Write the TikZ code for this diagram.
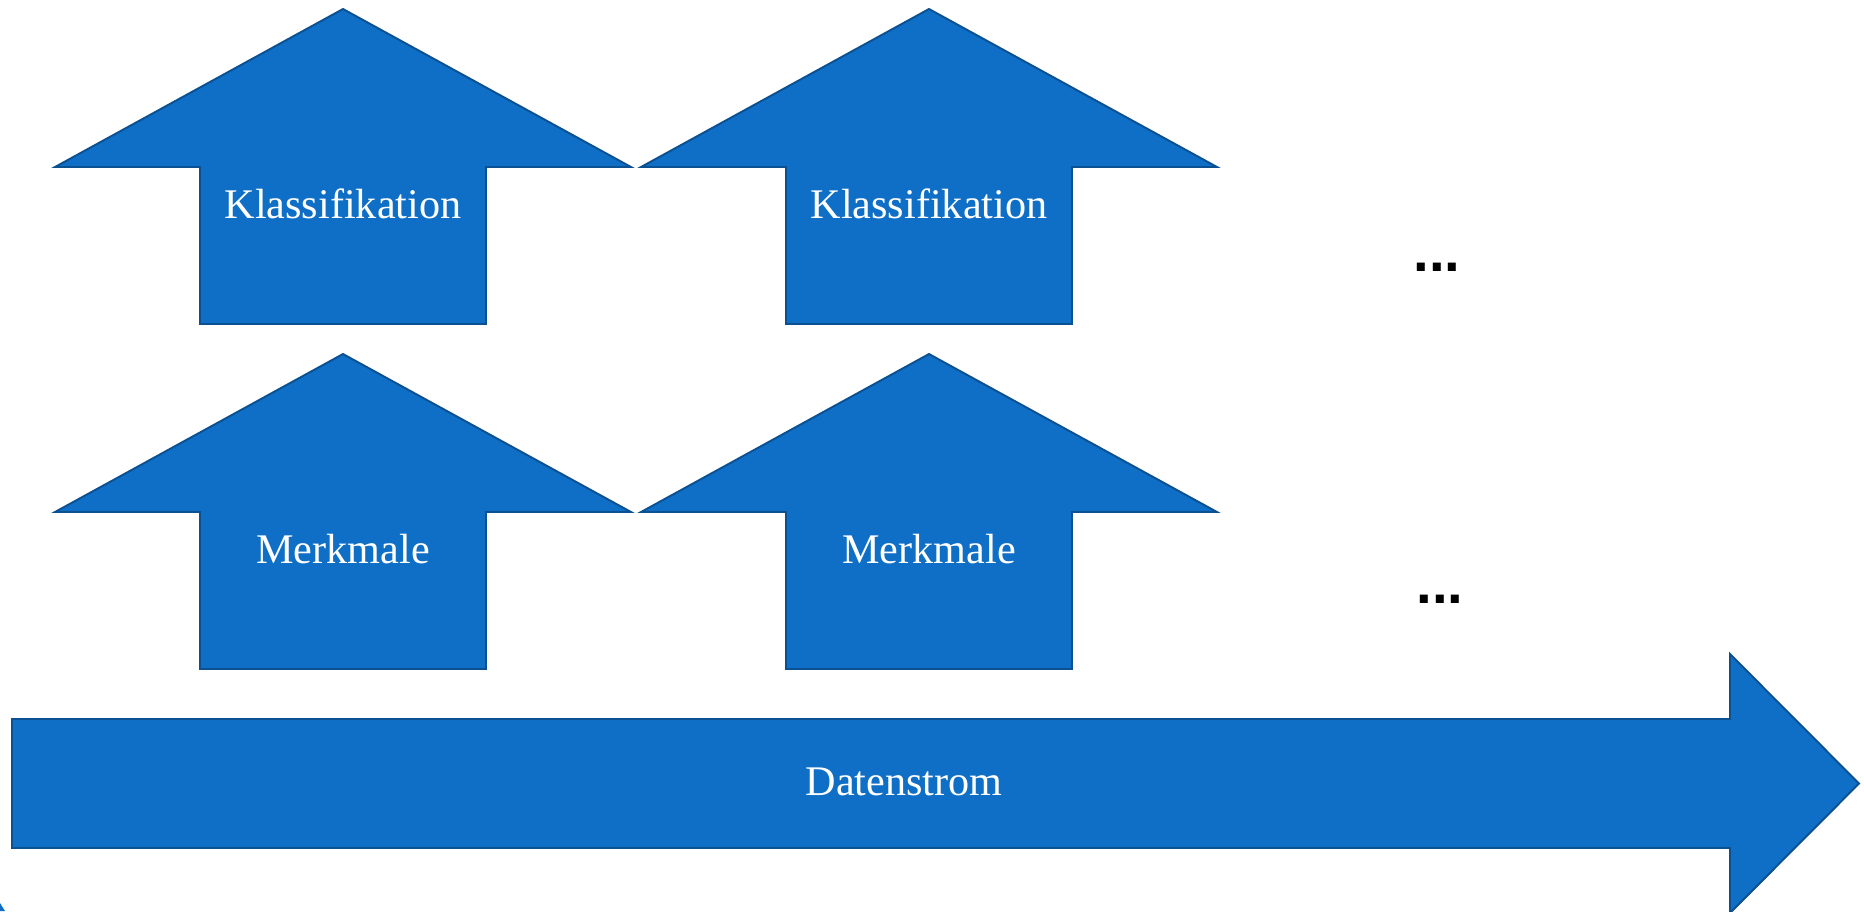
\documentclass[tikz,border=0pt]{standalone}
\usepackage{fontspec}
\setmainfont{Liberation Serif}
\newfontfamily\punktfont{Liberation Sans}
\definecolor{pfeilblau}{HTML}{0F6FC6}
\definecolor{pfeilrand}{HTML}{0B5192}
\begin{document}
\begin{tikzpicture}[x=0.01cm,y=-0.01cm,
    pfeil/.style={fill=pfeilblau,draw=pfeilrand,line width=0.55pt,line join=miter},
    schrift/.style={text=white,font=\fontsize{12pt}{14pt}\selectfont,inner sep=0pt,anchor=base},
    punkte/.style={text=black,font=\punktfont\bfseries\fontsize{16pt}{18pt}\selectfont,inner sep=0pt,anchor=base}]

    \useasboundingbox (0,0) rectangle (1864,911);

    % obere Reihe
    \draw[pfeil] (343,9) -- ++(288,158) -- ++(-145,0) -- ++(0,157) -- ++(-286,0) -- ++(0,-157) -- ++(-145,0) -- cycle;
    \draw[pfeil] (929,9) -- ++(288,158) -- ++(-145,0) -- ++(0,157) -- ++(-286,0) -- ++(0,-157) -- ++(-145,0) -- cycle;
    % untere Reihe
    \draw[pfeil] (343,354) -- ++(288,158) -- ++(-145,0) -- ++(0,157) -- ++(-286,0) -- ++(0,-157) -- ++(-145,0) -- cycle;
    \draw[pfeil] (929,354) -- ++(288,158) -- ++(-145,0) -- ++(0,157) -- ++(-286,0) -- ++(0,-157) -- ++(-145,0) -- cycle;
    % Datenstrom
    \draw[pfeil] (12,719) -- (1730,719) -- (1730,654) -- (1859,783.5) -- (1730,913) -- (1730,848) -- (12,848) -- cycle;
    \fill[pfeilblau] (0,903) -- (5,911) -- (0,911) -- cycle;

    \node[schrift] (klass1) at (343,218) {Klassifikation};
    \node[schrift] (klass2) at (929,218) {Klassifikation};
    \node[schrift] (merk1) at (343,563) {Merkmale};
    \node[schrift] (merk2) at (929,563) {Merkmale};
    \node[schrift] (daten) at (904,795) {Datenstrom};

    \node[punkte] (weiter1) at (1437,271) {...};
    \node[punkte] (weiter2) at (1440,603) {...};

\end{tikzpicture}
\end{document}
